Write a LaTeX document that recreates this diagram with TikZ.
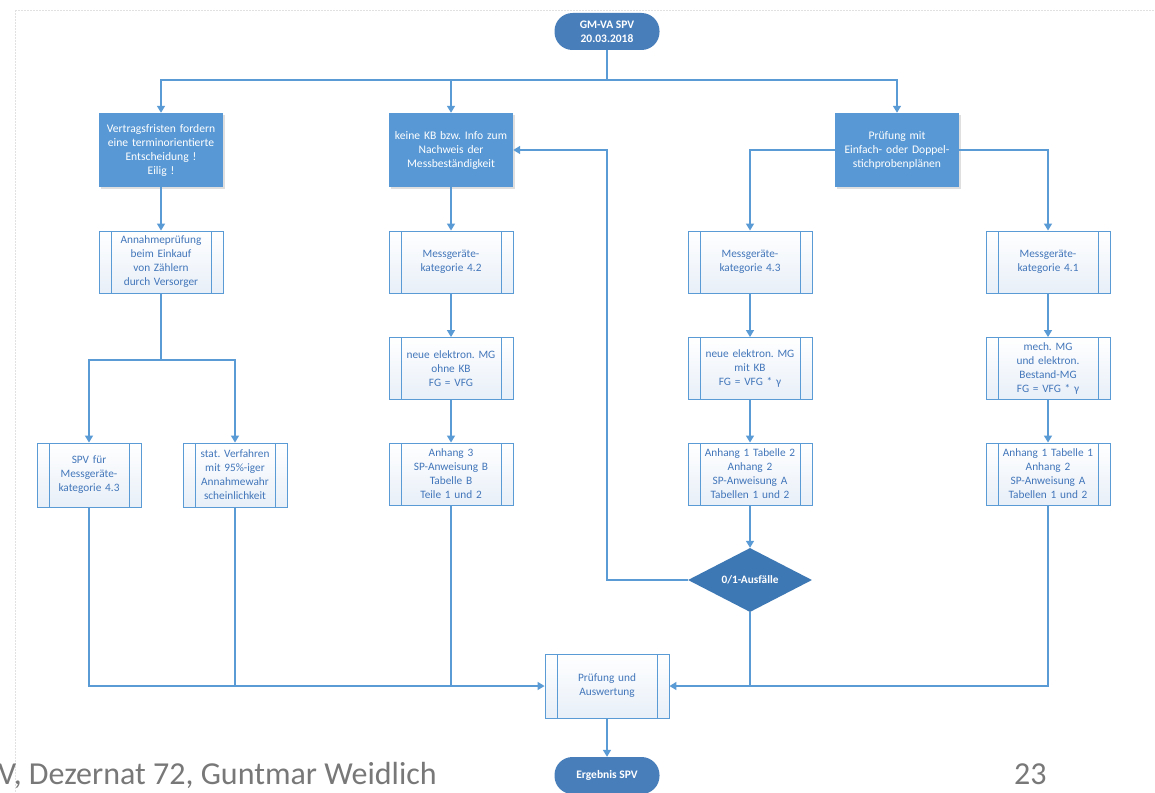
\documentclass[tikz,border=0pt]{standalone}
\usepackage{fontspec}
\setmainfont{Carlito}
\frenchspacing
\usetikzlibrary{arrows.meta,shapes.geometric,shadows}
\definecolor{lineblue}{RGB}{91,155,213}
\definecolor{boxblue}{RGB}{88,152,212}
\definecolor{termblue}{RGB}{72,126,186}
\definecolor{diablue}{RGB}{62,120,180}
\definecolor{proctext}{RGB}{66,118,186}
\definecolor{procbot}{RGB}{232,239,248}
\definecolor{footgray}{RGB}{120,120,120}
\definecolor{framegray}{RGB}{225,225,225}
\tikzset{
  conn/.style={draw=lineblue, line width=1.4pt},
  arr/.style={conn, -{Triangle[width=8pt,length=7pt]}},
  term/.style={fill=termblue, text=white, font=\fontsize{11.5}{14}\selectfont\bfseries,
    rounded corners=18pt, minimum width=105pt, minimum height=37pt, inner sep=0pt, align=center},
  bluebox/.style={fill=boxblue, text=white, font=\fontsize{11.6}{14}\selectfont,
    minimum width=124pt, minimum height=74pt, text width=122pt, inner sep=0pt, align=center,
    drop shadow={shadow xshift=1.5pt, shadow yshift=-1.5pt, opacity=0.25}},
  proc/.style={draw=lineblue, line width=0.9pt, top color=white, bottom color=procbot,
    text=proctext, font=\fontsize{11.3}{14}\selectfont,
    minimum width=124pt, minimum height=62pt, text width=106pt, inner sep=0pt, align=center,
    path picture={\draw[lineblue, line width=0.9pt]
      ([xshift=12pt]path picture bounding box.north west) -- ([xshift=12pt]path picture bounding box.south west)
      ([xshift=-12pt]path picture bounding box.north east) -- ([xshift=-12pt]path picture bounding box.south east);}},
  procs/.style={proc, minimum width=104pt, minimum height=64pt, text width=88pt},
  decis/.style={diamond, aspect=1.94, fill=diablue, text=white, font=\fontsize{11.3}{13}\selectfont\bfseries,
    minimum width=124pt, minimum height=64pt, inner sep=0pt},
}
\begin{document}
\begin{tikzpicture}[x=1pt,y=-1pt]
\useasboundingbox (0,0) rectangle (1155,792);
\fill[white] (0,0) rectangle (1155,792);
% faint slide frame
\draw[framegray, line width=0.6pt, dash pattern=on 2pt off 1pt] (15,10) -- (1155,10);
\draw[framegray, line width=0.6pt, dash pattern=on 2pt off 1pt] (15,10) -- (15,792);

% nodes
\node[term] (start) at (607,31.5) {GM-VA SPV\\20.03.2018};
\node[bluebox] (b1) at (161,150) {Vertragsfristen fordern\\eine terminorientierte\\Entscheidung !\\Eilig !};
\node[bluebox] (b2) at (451,150) {keine KB bzw. Info zum\\Nachweis der\\Messbeständigkeit};
\node[bluebox] (b3) at (897,150) {Prüfung mit\\Einfach- oder Doppel-\\stichprobenplänen};

\node[proc] (l2) at (161,262) {Annahmeprüfung\\beim Einkauf\\von Zählern\\durch Versorger};
\node[proc] (m2) at (451,262) {Messgeräte-\\kategorie 4.2};
\node[proc] (r2a) at (750,262) {Messgeräte-\\kategorie 4.3};
\node[proc] (r2b) at (1048,262) {Messgeräte-\\kategorie 4.1};

\node[proc] (m3) at (451,368.5) {neue elektron. MG\\ohne KB\\FG = VFG};
\node[proc] (r3a) at (750,368.5) {neue elektron. MG\\mit KB\\FG = VFG * γ};
\node[proc] (r3b) at (1048,368.5) {mech. MG\\und elektron.\\Bestand-MG\\FG = VFG * γ};

\node[procs] (l3a) at (89,475) {SPV für\\Messgeräte-\\kategorie 4.3};
\node[procs] (l3b) at (235,475) {stat. Verfahren\\mit 95\%-iger\\Annahmewahr\\scheinlichkeit};
\node[proc] (m4) at (451,474) {Anhang 3\\SP-Anweisung B\\Tabelle B\\Teile 1 und 2};
\node[proc] (r4a) at (750,474) {Anhang 1 Tabelle 2\\Anhang 2\\SP-Anweisung A\\Tabellen 1 und 2};
\node[proc] (r4b) at (1048,474) {Anhang 1 Tabelle 1\\Anhang 2\\SP-Anweisung A\\Tabellen 1 und 2};

\node[decis] (d) at (750,580) {0/1-Ausfälle};
\node[proc, minimum height=64pt] (p) at (607,686) {Prüfung und\\Auswertung};
\node[term] (e) at (607,775.5) {Ergebnis SPV};

% junction coordinates
\coordinate (j0) at (607,80);
\coordinate (jl) at (161,360);
\coordinate (loopc) at (607,580);

% connectors
\draw[conn] (start.south) -- (j0);
\draw[arr] (j0) -| (b1.north);
\draw[arr] (j0) -| (b2.north);
\draw[arr] (j0) -| (b3.north);

\draw[arr] (b1.south) -- (l2.north);
\draw[conn] (l2.south) -- (jl);
\draw[arr] (jl) -| (l3a.north);
\draw[arr] (jl) -| (l3b.north);

\draw[arr] (b2.south) -- (m2.north);
\draw[arr] (m2.south) -- (m3.north);
\draw[arr] (m3.south) -- (m4.north);

\draw[arr] (b3.west) -| (r2a.north);
\draw[arr] (b3.east) -| (r2b.north);
\draw[arr] (r2a.south) -- (r3a.north);
\draw[arr] (r3a.south) -- (r4a.north);
\draw[arr] (r2b.south) -- (r3b.north);
\draw[arr] (r3b.south) -- (r4b.north);

\draw[arr] (r4a.south) -- (d.north);
\draw[arr] (d.west) -- (loopc) |- (b2.east);
\draw[arr] (d.south) |- (p.east);
\draw[conn] (r4b.south) |- (d.south |- p.east);

\draw[arr] (l3a.south) |- (p.west);
\draw[conn] (l3b.south) -- (l3b.south |- p.west);
\draw[conn] (m4.south) -- (m4.south |- p.west);

\draw[arr] (p.south) -- (e.north);

% footer
\node[anchor=base west, inner sep=0pt, text=footgray, font=\fontsize{32}{32}\selectfont] (foot) at (-2,784) {V, Dezernat 72, Guntmar Weidlich};
\node[anchor=base west, inner sep=0pt, text=footgray, font=\fontsize{32}{32}\selectfont] (pg) at (1014,784) {23};
\end{tikzpicture}
\end{document}
